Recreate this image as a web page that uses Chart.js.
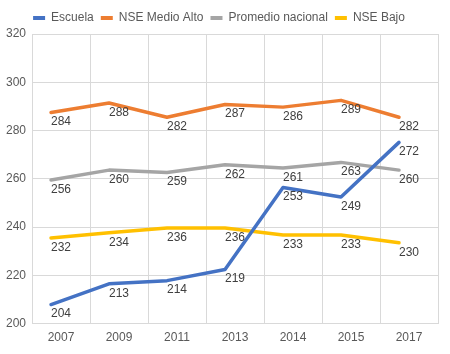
<!DOCTYPE html>
<html>
<head>
<meta charset="utf-8">
<script src="https://cdn.jsdelivr.net/npm/chart.js@4.4.1/dist/chart.umd.min.js"></script>
<style>
    html, body { margin: 0; padding: 0; background: #ffffff; }
    #wrap { width: 450px; height: 354px; }
</style>
</head>
<body>
<div id="wrap"><canvas id="lineChart" width="450" height="354"></canvas></div>
<script>
// Categories (years)
const years = ['2007', '2009', '2011', '2013', '2014', '2015', '2017'];

const escuela = [207.9, 216.5, 217.8, 222.4, 256.4, 252.5, 275.1];
const medioAlto = [287.5, 291.4, 285.5, 290.8, 289.7, 292.5, 285.5];
const promedio = [259.5, 263.6, 262.6, 265.8, 264.5, 266.8, 263.6];
const bajo = [235.5, 237.6, 239.6, 239.6, 236.7, 236.7, 233.5];

// Printed data labels
const escuelaLabels = [204, 213, 214, 219, 253, 249, 272];
const medioAltoLabels = [284, 288, 282, 287, 286, 289, 282];
const promedioLabels = [256, 260, 259, 262, 261, 263, 260];
const bajoLabels = [232, 234, 236, 236, 233, 233, 230];

// Y axis ticks
const yTicks = [200, 220, 240, 260, 280, 300, 320];

const FONT = "'Liberation Sans', Arial, sans-serif";

function series(label, data, labels, color) {
    return {
        label: label,
        data: data,
        pointLabels: labels,
        borderColor: color,
        backgroundColor: color,
        borderWidth: 3.5,
        borderJoinStyle: 'round',
        borderCapStyle: 'round',
        pointRadius: 0,
        pointHoverRadius: 0,
        tension: 0
    };
}

// Lines sit a little left of the category centre in the original
const shiftLines = {
    id: 'shiftLines',
    beforeDatasetsDraw(chart) {
        chart.ctx.save();
        chart.ctx.translate(-10, 0);
    },
    afterDatasetsDraw(chart) {
        chart.ctx.restore();
    }
};

// Value labels under each point
const valueLabels = {
    id: 'valueLabels',
    afterDatasetsDraw(chart) {
        const ctx = chart.ctx;
        ctx.save();
        ctx.font = '12px ' + FONT;
        ctx.fillStyle = '#404040';
        ctx.textAlign = 'center';
        ctx.textBaseline = 'middle';
        chart.data.datasets.forEach((ds, i) => {
            const meta = chart.getDatasetMeta(i);
            meta.data.forEach((pt, j) => {
                ctx.fillText(String(ds.pointLabels[j]), pt.x, pt.y + 9.5);
            });
        });
        ctx.restore();
    }
};

new Chart(document.getElementById('lineChart'), {
    type: 'line',
    data: {
        labels: years,
        datasets: [
            series('Escuela', escuela, escuelaLabels, '#4472C4'),
            series('NSE Medio Alto', medioAlto, medioAltoLabels, '#ED7D31'),
            series('Promedio nacional', promedio, promedioLabels, '#A5A5A5'),
            series('NSE Bajo', bajo, bajoLabels, '#FFC000')
        ]
    },
    options: {
        responsive: false,
        animation: false,
        layout: {
            padding: { left: 0, right: 12, top: 5, bottom: 2 }
        },
        plugins: {
            tooltip: { enabled: false },
            legend: {
                display: true,
                position: 'top',
                labels: {
                    boxWidth: 12,
                    boxHeight: 4,
                    padding: 7,
                    color: '#595959',
                    font: { family: FONT, size: 12 },
                    generateLabels: (chart) =>
                        Chart.defaults.plugins.legend.labels.generateLabels(chart)
                            .map(item => Object.assign(item, { lineWidth: 0 }))
                }
            }
        },
        scales: {
            x: {
                offset: true,
                grid: {
                    offset: true,
                    drawTicks: false,
                    color: (c) => c.index === years.length ? 'rgba(0,0,0,0)' : '#D9D9D9'
                },
                border: { color: '#D9D9D9' },
                ticks: {
                    padding: 7,
                    color: '#595959',
                    font: { family: FONT, size: 12 },
                    maxRotation: 0
                }
            },
            y: {
                min: 200,
                max: 320,
                afterBuildTicks: (axis) => {
                    axis.ticks = yTicks.map(v => ({ value: v }));
                },
                grid: { drawTicks: false, color: '#D9D9D9' },
                border: { color: '#D9D9D9' },
                ticks: {
                    padding: 6,
                    color: '#595959',
                    font: { family: FONT, size: 12 }
                }
            }
        }
    },
    plugins: [shiftLines, valueLabels]
});
</script>
</body>
</html>
